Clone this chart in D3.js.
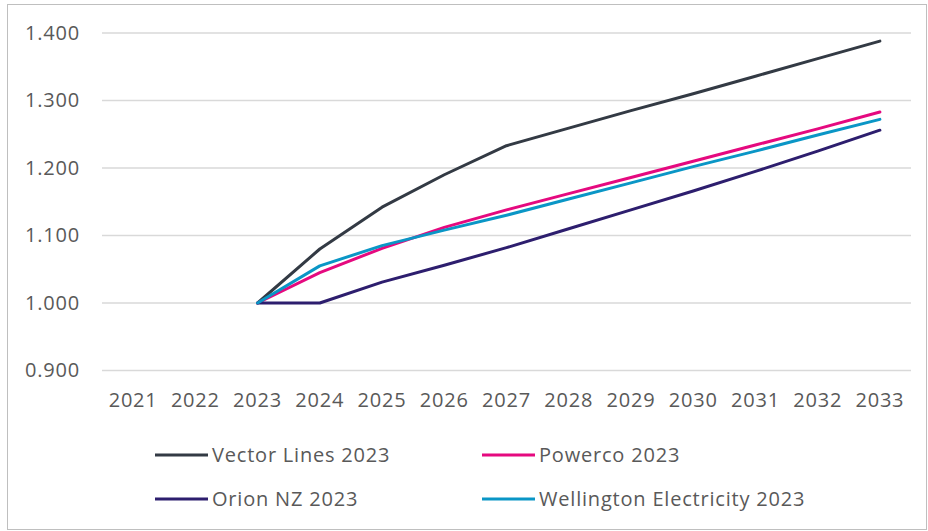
<!DOCTYPE html>
<meta charset="utf-8">
<head>
<style>
 body { margin: 0; background: #fff; }
 svg text {
   font-family: "Open Sans", "Noto Sans", sans-serif;
   fill: #595959;
   letter-spacing: 0.8px;
 }
 .grid line { stroke: #d9d9d9; stroke-width: 1.5px; }
 .series path { fill: none; stroke-width: 3px; stroke-linejoin: round; stroke-linecap: round; }
</style>
</head>
<body>
<svg width="928" height="531"></svg>
<script src="https://cdn.jsdelivr.net/npm/d3@7"></script>
<script>
  // data
  var years = ['2021','2022','2023','2024','2025','2026','2027','2028','2029','2030','2031','2032','2033'];
  var seriesYears = ['2023','2024','2025','2026','2027','2028','2029','2030','2031','2032','2033'];
  var vector = [1.000, 1.080, 1.142, 1.190, 1.233, 1.259, 1.285, 1.310, 1.336, 1.362, 1.388];
  var powerco = [1.000, 1.045, 1.081, 1.112, 1.138, 1.162, 1.186, 1.210, 1.234, 1.258, 1.283];
  var orion = [1.000, 1.000, 1.031, 1.056, 1.082, 1.110, 1.138, 1.166, 1.195, 1.225, 1.256];
  var wellington = [1.000, 1.055, 1.085, 1.108, 1.130, 1.154, 1.178, 1.202, 1.225, 1.249, 1.272];
  var yTicks = [0.9, 1.0, 1.1, 1.2, 1.3, 1.4];

  var series = [
    { name: 'Vector Lines 2023', values: vector, color: '#333a44' },
    { name: 'Powerco 2023', values: powerco, color: '#e5097f' },
    { name: 'Orion NZ 2023', values: orion, color: '#2d1e6e' },
    { name: 'Wellington Electricity 2023', values: wellington, color: '#0a96c6' }
  ];

  var svg = d3.select('svg');
  var width = +svg.attr('width');
  var height = +svg.attr('height');
  var margin = { top: 33, left: 102, right: 17, bottom: 160 };

  // outer frame
  svg.append('rect')
    .attr('x', 7.5).attr('y', 4.5)
    .attr('width', width - 9).attr('height', height - 6)
    .attr('fill', 'none').attr('stroke', '#bfbfbf');

  var x = d3.scaleBand()
    .domain(years)
    .range([margin.left, width - margin.right]);

  var y = d3.scaleLinear()
    .domain([0.9, 1.4])
    .range([370.5, margin.top]);

  // gridlines
  svg.append('g').attr('class', 'grid')
    .selectAll('line')
    .data(yTicks)
    .join('line')
      .attr('x1', margin.left)
      .attr('x2', width - margin.right)
      .attr('y1', function(d) { return y(d); })
      .attr('y2', function(d) { return y(d); });

  var fmt = d3.format('.3f');
  var yAxis = svg.append('g')
    .attr('transform', 'translate(' + (margin.left - 22) + ',0)')
    .call(d3.axisLeft(y).tickValues(yTicks).tickFormat(fmt).tickSize(0));
  yAxis.select('.domain').remove();
  yAxis.selectAll('text').style('font-size', '20px').attr('x', 0);

  var xAxis = svg.append('g')
    .attr('transform', 'translate(0,' + 390 + ')')
    .call(d3.axisBottom(x).tickSize(0));
  xAxis.select('.domain').remove();
  xAxis.selectAll('text').style('font-size', '20px').attr('dy', '0.71em').attr('y', 3);

  var line = d3.line()
    .x(function(d, i) { return x(seriesYears[i]) + x.bandwidth() / 2; })
    .y(function(d) { return y(d); });

  svg.append('g').attr('class', 'series')
    .selectAll('path')
    .data(series)
    .join('path')
      .attr('stroke', function(d) { return d.color; })
      .attr('d', function(d) { return line(d.values); });

  // legend, two columns
  var legendX = [155, 482];
  var legendY = [455, 499];
  var legend = svg.append('g').selectAll('g')
    .data(series)
    .join('g')
      .attr('transform', function(d, i) {
        return 'translate(' + legendX[i % 2] + ',' + legendY[Math.floor(i / 2)] + ')';
      });
  legend.append('line')
    .attr('x1', 0).attr('x2', 53)
    .attr('stroke', function(d) { return d.color; })
    .attr('stroke-width', 3);
  legend.append('text')
    .attr('x', 57)
    .attr('dy', '0.35em')
    .style('font-size', '20px')
    .text(function(d) { return d.name; });
</script>
</body>
</html>
